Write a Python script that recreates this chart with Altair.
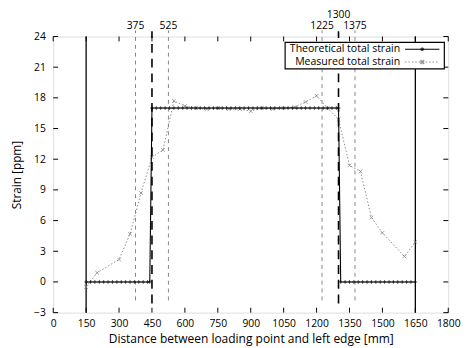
import altair as alt
import pandas as pd

# ---------------- data ----------------
theo_x = [150, 170, 190, 210, 230, 250, 270, 290, 310, 330, 350, 370, 390, 410, 430, 440,
          450, 470, 490, 510, 530, 550, 570, 590, 610, 630, 650, 670, 690, 710, 730, 750,
          770, 790, 810, 830, 850, 870, 890, 910, 930, 950, 970, 990, 1010, 1030, 1050,
          1070, 1090, 1110, 1130, 1150, 1170, 1190, 1210, 1230, 1250, 1270, 1290, 1300,
          1310, 1330, 1350, 1370, 1390, 1410, 1430, 1450, 1470, 1490, 1510, 1530, 1550,
          1570, 1590, 1610, 1630, 1650]
theo_y = [0, 0, 0, 0, 0, 0, 0, 0, 0, 0, 0, 0, 0, 0, 0, 0,
          17, 17, 17, 17, 17, 17, 17, 17, 17, 17, 17, 17, 17, 17, 17, 17,
          17, 17, 17, 17, 17, 17, 17, 17, 17, 17, 17, 17, 17, 17, 17,
          17, 17, 17, 17, 17, 17, 17, 17, 17, 17, 17, 17, 17,
          0, 0, 0, 0, 0, 0, 0, 0, 0, 0, 0, 0, 0,
          0, 0, 0, 0, 0]

meas_x = [150, 200, 300, 350, 400, 450, 500, 550, 600, 650, 700, 750, 800, 850, 900,
          950, 1000, 1050, 1100, 1150, 1200, 1250, 1300, 1350, 1400, 1450, 1500, 1600, 1650]
meas_y = [-0.5, 0.9, 2.2, 4.7, 8.7, 12.2, 12.9, 17.7, 17.2, 17.0, 16.9, 17.0, 16.9, 16.9, 16.7,
          17.0, 16.9, 17.0, 17.1, 17.6, 18.2, 17.0, 15.9, 11.4, 10.8, 6.3, 4.8, 2.5, 3.9]

x_ticks = [0, 150, 300, 450, 600, 750, 900, 1050, 1200, 1350, 1500, 1650, 1800]
y_ticks = [-3, 0, 3, 6, 9, 12, 15, 18, 21, 24]

edge_lines = [150, 1650]
load_lines = [450, 1300]
gauge_lines = [375, 525, 1225, 1375]
top_labels_low = ["375", "525", "1225", "1375"]
top_labels_low_x = [375, 525, 1225, 1375]
top_labels_high = ["1300"]
top_labels_high_x = [1300]

legend_names = ["Theoretical total  strain", "Measured total strain"]

W, H = 402, 281
FONT = "Open Sans"

xs = alt.Scale(domain=[0, 1800], nice=False, zero=False)
ys = alt.Scale(domain=[-3, 24], nice=False, zero=False)

x_axis = alt.Axis(values=x_ticks, format="d", grid=False, tickSize=0, domain=False,
                  labelPadding=6, labelOverlap=False, labelFlush=False,
                  labelFontSize=10.5, labelFont=FONT, labelColor="black",
                  title="Distance between loading point and left edge [mm]",
                  titleFont=FONT, titleFontSize=12.2, titleFontWeight="normal",
                  titleColor="black", titlePadding=4)
y_axis = alt.Axis(values=y_ticks, format="d", grid=False, tickSize=0, domain=False,
                  labelPadding=8, labelOverlap=False, labelFlush=False,
                  labelFontSize=10.5, labelFont=FONT, labelColor="black",
                  title="Strain [ppm]", titleFont=FONT, titleFontSize=12,
                  titleFontWeight="normal", titleColor="black", titlePadding=10)


def X(field):
    return alt.X(field, scale=xs, axis=x_axis)


def Y(field):
    return alt.Y(field, scale=ys, axis=y_axis)


theo_df = pd.DataFrame({"x": theo_x, "y": theo_y})
meas_df = pd.DataFrame({"x": meas_x, "y": meas_y})

plus_path = "M-1,0L1,0M0,-1L0,1"
cross_path = "M-1,-1L1,1M-1,1L1,-1"

# inward ticks
xt_df = pd.DataFrame({"x": x_ticks})
yt_df = pd.DataFrame({"y": y_ticks})
xt_bottom = alt.Chart(xt_df).mark_rule(color="black", strokeWidth=1).encode(
    x=X("x:Q"), y=alt.value(H), y2=alt.value(H - 5))
xt_top = alt.Chart(xt_df).mark_rule(color="black", strokeWidth=1).encode(
    x=X("x:Q"), y=alt.value(0), y2=alt.value(5))
yt_left = alt.Chart(yt_df).mark_rule(color="black", strokeWidth=1).encode(
    y=Y("y:Q"), x=alt.value(0), x2=alt.value(5))
yt_right = alt.Chart(yt_df).mark_rule(color="black", strokeWidth=1).encode(
    y=Y("y:Q"), x=alt.value(W), x2=alt.value(W - 5))

# vertical reference lines
edge = alt.Chart(pd.DataFrame({"x": edge_lines})).mark_rule(color="black", strokeWidth=1.3).encode(
    x=X("x:Q"), y=alt.value(0), y2=alt.value(H))
load = alt.Chart(pd.DataFrame({"x": load_lines, "y": [-2.1, -2.1], "y2": [24.5, 24.5]})).mark_rule(
    color="black", strokeWidth=1.6, strokeDash=[9, 6], clip=False).encode(
    x=X("x:Q"), y=Y("y:Q"), y2="y2:Q")
gauge = alt.Chart(pd.DataFrame({"x": gauge_lines, "y": [-1.8] * 4, "y2": [24.6] * 4})).mark_rule(
    color="#777777", strokeWidth=0.9, strokeDash=[4, 4], clip=False).encode(
    x=X("x:Q"), y=Y("y:Q"), y2="y2:Q")

top_low = alt.Chart(pd.DataFrame({"x": top_labels_low_x, "t": top_labels_low})).mark_text(
    font=FONT, fontSize=10.5, color="black", baseline="middle", clip=False).encode(
    x=X("x:Q"), text="t:N", y=alt.value(-11))
top_high = alt.Chart(pd.DataFrame({"x": top_labels_high_x, "t": top_labels_high})).mark_text(
    font=FONT, fontSize=10.5, color="black", baseline="middle", clip=False).encode(
    x=X("x:Q"), text="t:N", y=alt.value(-22))

# data lines
theo_line = alt.Chart(theo_df).mark_line(color="black", strokeWidth=1.1).encode(
    x=X("x:Q"), y=Y("y:Q"))
theo_pts = alt.Chart(theo_df).mark_point(shape=plus_path, size=14, color="black",
                                         strokeWidth=1, filled=False).encode(
    x=X("x:Q"), y=Y("y:Q"))
meas_line = alt.Chart(meas_df).mark_line(color="#8c8c8c", strokeWidth=1, strokeDash=[1.5, 2]).encode(
    x=X("x:Q"), y=Y("y:Q"))
meas_pts = alt.Chart(meas_df).mark_point(shape=cross_path, size=14, color="#7a7a7a",
                                         strokeWidth=1, filled=False).encode(
    x=X("x:Q"), y=Y("y:Q"))

# legend (drawn in gnuplot style: label then sample)
one = pd.DataFrame({"a": [0]})
leg_box = alt.Chart(one).mark_rect(fill="white", stroke="black", strokeWidth=1.2).encode(
    x=alt.value(236), x2=alt.value(398), y=alt.value(6), y2=alt.value(33))
leg_t1 = alt.Chart(one).mark_text(font=FONT, fontSize=10.7, align="right", baseline="middle",
                                  color="black").encode(
    x=alt.value(353), y=alt.value(13), text=alt.value(legend_names[0]))
leg_t2 = alt.Chart(one).mark_text(font=FONT, fontSize=10.7, align="right", baseline="middle",
                                  color="black").encode(
    x=alt.value(353), y=alt.value(26), text=alt.value(legend_names[1]))
leg_l1 = alt.Chart(one).mark_rule(color="black", strokeWidth=1.1).encode(
    x=alt.value(358), x2=alt.value(393), y=alt.value(13))
leg_p1 = alt.Chart(one).mark_point(shape=plus_path, size=14, color="black", filled=False).encode(
    x=alt.value(375.5), y=alt.value(13))
leg_l2 = alt.Chart(one).mark_rule(color="#8c8c8c", strokeWidth=1, strokeDash=[1.5, 2]).encode(
    x=alt.value(358), x2=alt.value(393), y=alt.value(26))
leg_p2 = alt.Chart(one).mark_point(shape=cross_path, size=14, color="#7a7a7a", filled=False).encode(
    x=alt.value(375.5), y=alt.value(26))

chart = alt.layer(
    xt_bottom, yt_left, xt_top, yt_right,
    gauge, load, edge, top_low, top_high,
    meas_line, meas_pts, theo_line, theo_pts,
    leg_box, leg_t1, leg_t2, leg_l1, leg_p1, leg_l2, leg_p2,
).properties(
    width=W, height=H,
    autosize=alt.AutoSizeParams(type="none"),
    padding={"left": 46, "top": 26, "right": 15, "bottom": 33},
).configure_view(stroke="black", strokeWidth=1.2).configure(background="white")

chart.save("out.html", embed_options={"renderer": "svg", "actions": False})
